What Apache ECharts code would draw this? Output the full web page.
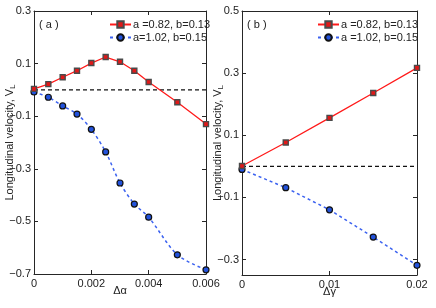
<!DOCTYPE html>
<html><head><meta charset="utf-8">
<script src="https://cdn.jsdelivr.net/npm/echarts@6/dist/echarts.min.js"></script>
<style>html,body{margin:0;padding:0;background:#fff}#c{width:436px;height:308px}</style>
</head><body><div id="c"></div>
<script>
// Panel (a)
const xA = [0, 0.0005, 0.001, 0.0015, 0.002, 0.0025, 0.003, 0.0035, 0.004, 0.005, 0.006];
const redA = [0.004, 0.022, 0.048, 0.073, 0.102, 0.125, 0.107, 0.073, 0.030, -0.047, -0.130];
const blueA = [-0.008, -0.028, -0.061, -0.092, -0.150, -0.236, -0.354, -0.434, -0.484, -0.627, -0.684];
const zeroA = [[0, 0], [0.006, 0]];
const yTicksA = [-0.7, -0.5, -0.3, -0.1, 0.1, 0.3];
const xTicksA = [0, 0.002, 0.004, 0.006];
// Panel (b)
const xB = [0, 0.005, 0.01, 0.015, 0.02];
const redB = [0.001, 0.0765, 0.156, 0.236, 0.317];
const blueB = [-0.010, -0.069, -0.140, -0.228, -0.319];
const zeroB = [[0, 0], [0.02, 0]];
const yTicksB = [-0.3, -0.1, 0.1, 0.3, 0.5];
const xTicksB = [0, 0.01, 0.02];

const nameRed = 'a =0.82, b=0.13';
const nameBlueA = 'a=1.02, b=0.15';
const nameBlueB = 'a =1.02, b=0.15';

const FONT = 'Liberation Sans, Arial, sans-serif';
const AX = '#262626';
const fmtY = v => (v < 0 ? '\u2212' : '') + Math.abs(v).toFixed(1);
const fmtX = v => String(v);

function xAxes(gi, min, max, ticks, name) {
  return [{
    type: 'value', gridIndex: gi, min, max, position: 'bottom',
    name, nameLocation: 'middle', nameGap: 11, nameMoveOverlap: false,
    nameTextStyle: {fontFamily: FONT, fontSize: 11, color: '#222'},
    axisLine: {show: true, onZero: false, lineStyle: {color: AX, width: 1}},
    axisTick: {show: true, inside: true, length: 4, customValues: ticks, lineStyle: {color: AX}},
    axisLabel: {show: true, customValues: ticks, formatter: fmtX, margin: 4, fontFamily: FONT, fontSize: 11, color: '#222'},
    splitLine: {show: false}
  }, {
    type: 'value', gridIndex: gi, min, max, position: 'top',
    axisLine: {show: true, onZero: false, lineStyle: {color: AX, width: 1}},
    axisTick: {show: true, inside: true, length: 4, customValues: ticks, lineStyle: {color: AX}},
    axisLabel: {show: false},
    splitLine: {show: false}
  }];
}
function yAxes(gi, min, max, ticks, gap) {
  return [{
    type: 'value', gridIndex: gi, min, max, position: 'left',
    name: '{n|Longitudinal velocity, V}{s|L}', nameLocation: 'middle', nameGap: gap, nameMoveOverlap: false,
    nameTextStyle: {fontFamily: FONT, fontSize: 11, color: '#222',
      rich: {n: {fontFamily: FONT, fontSize: 11, color: '#222'},
             s: {fontFamily: FONT, fontSize: 8, color: '#222', padding: [7, 0, 0, 0], verticalAlign: 'bottom'}}},
    axisLine: {show: true, onZero: false, lineStyle: {color: AX, width: 1}},
    axisTick: {show: true, inside: true, length: 4, customValues: ticks, lineStyle: {color: AX}},
    axisLabel: {show: true, customValues: ticks, formatter: fmtY, margin: 3, fontFamily: FONT, fontSize: 11, color: '#222'},
    splitLine: {show: false}
  }, {
    type: 'value', gridIndex: gi, min, max, position: 'right',
    axisLine: {show: true, onZero: false, lineStyle: {color: AX, width: 1}},
    axisTick: {show: true, inside: true, length: 4, customValues: ticks, lineStyle: {color: AX}},
    axisLabel: {show: false},
    splitLine: {show: false}
  }];
}

const redStyle = {
  type: 'line', symbol: 'rect', symbolSize: 5,
  lineStyle: {color: '#ff1a1a', width: 1.3},
  itemStyle: {color: '#e01818', borderColor: '#4a4a4a', borderWidth: 1.4},
  z: 3
};
const blueStyle = {
  type: 'line', symbol: 'circle', symbolSize: 6,
  lineStyle: {color: '#3d63f0', width: 1.5, type: [3, 3]},
  itemStyle: {color: '#2252dc', borderColor: '#111', borderWidth: 1.2},
  z: 2
};
const zeroStyle = {
  type: 'line', symbol: 'none', silent: true,
  lineStyle: {color: '#111', width: 1.2, type: [4, 3]}, z: 1
};
const pair = (xs, ys) => xs.map((x, i) => [x, ys[i]]);
const legendText = {fontFamily: FONT, fontSize: 11, color: '#222', padding: [0, 0, 0, -3]};

const option = {
  animation: false,
  backgroundColor: '#fff',
  grid: [
    {left: 34, right: 230, top: 11, bottom: 34},
    {left: 242, right: 19, top: 11, bottom: 33}
  ],
  xAxis: [...xAxes(0, 0, 0.006, xTicksA, '\u0394\u03b1'), ...xAxes(1, 0, 0.02, xTicksB, '\u0394\u03b3')],
  yAxis: [...yAxes(0, -0.7, 0.3, yTicksA, 17), ...yAxes(1, -0.35, 0.5, yTicksB, 17)],
  legend: [
    {data: [nameRed, nameBlueA], left: 109, top: 19, orient: 'vertical', itemGap: 2, itemWidth: 21, itemHeight: 8,
     textStyle: legendText, selectedMode: false, padding: 0},
    {data: [nameRed, nameBlueB], left: 317, top: 19, orient: 'vertical', itemGap: 2, itemWidth: 21, itemHeight: 8,
     textStyle: legendText, selectedMode: false, padding: 0}
  ],
  graphic: [
    {type: 'text', left: 39, top: 19, style: {text: '( a )', font: '11px ' + FONT, fill: '#222'}},
    {type: 'text', left: 247, top: 19, style: {text: '( b )', font: '11px ' + FONT, fill: '#222'}}
  ],
  series: [
    Object.assign({name: '_zeroA', xAxisIndex: 0, yAxisIndex: 0, data: zeroA}, zeroStyle),
    Object.assign({name: nameBlueA, xAxisIndex: 0, yAxisIndex: 0, data: pair(xA, blueA), smooth: 0.3}, blueStyle),
    Object.assign({name: nameRed, xAxisIndex: 0, yAxisIndex: 0, data: pair(xA, redA)}, redStyle),
    Object.assign({name: '_zeroB', xAxisIndex: 2, yAxisIndex: 2, data: zeroB}, zeroStyle),
    Object.assign({name: nameBlueB, xAxisIndex: 2, yAxisIndex: 2, data: pair(xB, blueB)}, blueStyle),
    Object.assign({name: nameRed, xAxisIndex: 2, yAxisIndex: 2, data: pair(xB, redB)}, redStyle)
  ]
};
const chart = echarts.init(document.getElementById('c'), null, {renderer: 'canvas'});
chart.setOption(option);
</script>
</body></html>
